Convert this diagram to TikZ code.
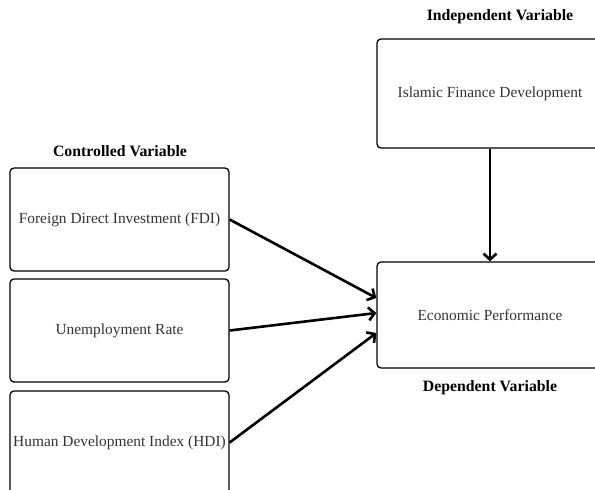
\documentclass[tikz,border=0pt]{standalone}
\usepackage{fontspec}
\setmainfont{Liberation Serif}
\usetikzlibrary{arrows.meta,calc}
\begin{document}
\begin{tikzpicture}[x=1pt,y=-1pt,
 box/.style={draw, line width=1.3pt, rounded corners=4pt, inner sep=0pt, text=black!80, font=\fontsize{15.4}{17}\selectfont},
 ttl/.style={font=\bfseries\fontsize{15.8}{18}\selectfont, inner sep=0pt},
 arr/.style={line width=2.6pt, -{Straight Barb[length=6pt,width=13pt]}}]
\useasboundingbox (0,0) rectangle (595,490);
\clip (0,0) rectangle (595,490);
\node[ttl] (tc) at (120,151) {Controlled Variable};
\node[ttl] (ti) at (500,17) {Independent Variable};
\node[ttl] (td) at (490,388) {Dependent Variable};
\node[box, minimum width=219pt, minimum height=103pt] (fdi) at (119.5,219.5) {Foreign Direct Investment (FDI)};
\node[box, minimum width=219pt, minimum height=103pt] (ur) at (119.5,330.5) {Unemployment Rate};
\node[box, minimum width=219pt, minimum height=103pt] (hdi) at (119.5,442.5) {Human Development Index (HDI)};
\node[box, minimum width=226pt, minimum height=109pt] (ifd) at (490,93.5) {Islamic Finance Development};
\node[box, minimum width=226pt, minimum height=106pt] (ep) at (490,315) {Economic Performance};
\draw[arr] (ifd.south) -- (ep.north);
\draw[arr] (fdi.east) -- ($(ep.west)+(0,-17)$);
\draw[arr] (ur.east) -- ($(ep.west)+(0,-2)$);
\draw[arr] (hdi.east) -- ($(ep.west)+(0,18)$);
\end{tikzpicture}
\end{document}
